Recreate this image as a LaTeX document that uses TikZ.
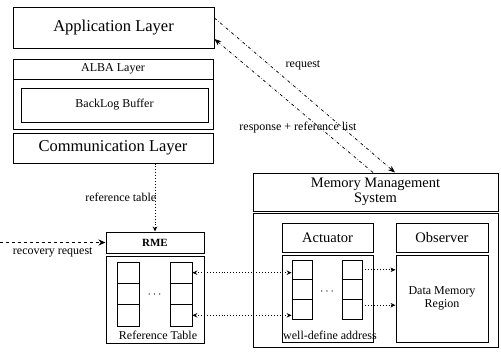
\documentclass[tikz,border=0pt]{standalone}
\usepackage{fontspec}
\setmainfont{Liberation Serif}
\usetikzlibrary{positioning,arrows.meta}

\tikzset{
  box/.style={draw, line width=1pt, inner sep=0pt, align=center},
  cell/.style={draw, line width=0.8pt, minimum width=21pt, minimum height=20pt, inner sep=0pt},
  big/.style={font=\fontsize{16.5}{18}\selectfont},
  mid/.style={font=\fontsize{14.5}{16}\selectfont},
  small/.style={font=\fontsize{12}{13.5}\selectfont},
  link/.style={dotted, line width=0.9pt, {Stealth[length=5pt,width=4.5pt]}-{Stealth[length=5pt,width=4.5pt]}},
  feed/.style={dotted, line width=0.9pt, -{Stealth[length=5pt,width=4.5pt]}},
  msg/.style={dash dot, line width=0.7pt},
}

\begin{document}
\begin{tikzpicture}[x=1pt,y=-1pt]
  \useasboundingbox (0,0) rectangle (501,351);

  % protocol stack on the left
  \node[box,big,minimum width=201pt,minimum height=41pt] (app) at (113.5,28) {Application Layer};
  \node[box,small,minimum width=200pt,minimum height=20pt] (albatitle) at (113,69) {ALBA Layer};
  \node[box,minimum width=200pt,minimum height=50pt] (albabody) at (113,104) {};
  \node[box,small,minimum width=187pt,minimum height=34pt] (backlog) at (114.5,105) {BackLog Buffer};
  \node[box,big,minimum width=200pt,minimum height=30pt] (comm) at (113,148) {Communication Layer};

  % recovery engine with its reference table
  \node[box,font=\fontsize{11}{12}\bfseries,minimum width=98pt,minimum height=21pt] (rme) at (155,242.5) {RME};
  \node[box,minimum width=98pt,minimum height=87pt] (reftab) at (155,299.5) {};
  \foreach \r [evaluate=\r as \yy using 272.7+21.3*(\r-1)] in {1,2,3} {
    \node[cell,minimum width=22pt,minimum height=21.3pt] (rc1\r) at (128,\yy) {};
    \node[cell,minimum width=22pt,minimum height=21.3pt] (rc2\r) at (181,\yy) {};
  }
  \node[small] (rdots) at (154.5,295) {$\cdots$};
  \node[small] (rlabel) at (158,335) {Reference Table};

  % memory management system
  \node[box,mid,minimum width=245pt,minimum height=38pt] (mms) at (375.5,192) {Memory Management\\[-1pt]System};
  \node[box,minimum width=245pt,minimum height=134pt] (mmsbody) at (375.5,280) {};
  \node[box,mid,minimum width=91pt,minimum height=29pt] (acttitle) at (327.5,237.5) {Actuator};
  \node[box,minimum width=91pt,minimum height=87pt] (actbody) at (327.5,298.5) {};
  \node[box,mid,minimum width=92pt,minimum height=29pt] (obstitle) at (442,237.5) {Observer};
  \node[box,small,minimum width=92pt,minimum height=87pt] (obsbody) at (442,298.5) {Data Memory\\Region};
  \foreach \r [evaluate=\r as \yy using 269.8+19.7*(\r-1)] in {1,2,3} {
    \node[cell,minimum width=20pt,minimum height=19.7pt] (ac1\r) at (302,\yy) {};
    \node[cell,minimum width=20pt,minimum height=19.7pt] (ac2\r) at (352,\yy) {};
  }
  \node[small] (adots) at (327,292) {$\cdots$};
  \node[small] (alabel) at (330,335) {well-define address};

  % messages between the application and the memory system
  \draw[msg,-{Stealth[length=7pt,width=5.5pt]}] ([yshift=10pt]app.east) -- ([xshift=19.5pt]mms.north);
  \draw[msg,-{Stealth[length=7pt,width=5.5pt]}] ([xshift=-2.5pt]mms.north) -- ([yshift=-11pt]app.east);
  \node[small] (reqlabel) at (303,65) {request};
  \node[small] (resplabel) at (298,128) {response + reference list};

  % reference table fetch and recovery trigger
  \draw[feed] (comm.south -| rme.north) -- node[small,left=-5pt,pos=0.5] (tablabel) {reference table} (rme.north);
  \coordinate (recin) at (0,242.5);
  \draw[dashed,line width=1.6pt,-{Stealth[length=7pt,width=6pt]}] (recin) -- node[small,below=1pt] (reclabel) {recovery request} (rme.west);

  % table entries mapped onto addresses and memory
  \draw[link] (rc21.east) -- (rc21.east -| ac11.west);
  \draw[link] (rc23.east) -- (rc23.east -| ac13.west);
  \draw[feed] (ac21.east) -- (ac21.east -| obsbody.west);
  \draw[feed] ([yshift=4pt]ac23.east) -- ([yshift=4pt]ac23.east -| obsbody.west);
\end{tikzpicture}
\end{document}
